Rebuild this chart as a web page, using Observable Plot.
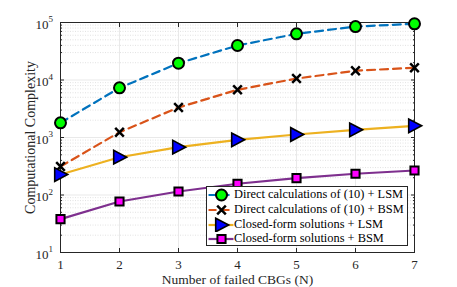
<!DOCTYPE html>
<html><head><meta charset="utf-8">
<script src="https://cdn.jsdelivr.net/npm/d3@7"></script>
<script src="https://cdn.jsdelivr.net/npm/@observablehq/plot@0.6"></script>
<style>
body{margin:0;background:#fff;}
#wrap{position:relative;width:457px;height:287px;font-family:"Liberation Serif","Times New Roman",serif;}
#legend{position:absolute;left:206px;top:186px;width:202px;height:60px;border:1px solid #262626;background:#fff;box-sizing:border-box;font-size:12.4px;color:#000;}
.row{position:absolute;left:0;height:15px;width:200px;white-space:nowrap;}
.row svg{position:absolute;left:1px;top:0;}
.row span{position:absolute;left:27px;top:0;line-height:15px;}
</style></head><body>
<div id="wrap"><div id="legend"></div></div>
<script>
const nFailed = [1, 2, 3, 4, 5, 6, 7];
const directLSM = [1800, 7300, 19600, 39800, 63500, 85000, 95000];
const directBSM = [313, 1236, 3325, 6760, 10600, 14500, 16300];
const closedLSM = [227, 454, 678, 912, 1128, 1360, 1597];
const closedBSM = [38, 77, 115, 157, 196, 234, 267];
const seriesNames = ["Direct calculations of (10) + LSM", "Direct calculations of (10) + BSM", "Closed-form solutions + LSM", "Closed-form solutions + BSM"];
const xLabel = "Number of failed CBGs (N)";
const yLabel = "Computational Complexity";
const lineColors = ["#0072BD", "#D95319", "#EDB120", "#7E2F8E"];
const fillColors = ["#00FF00", "#000000", "#0000FF", "#FF00FF"];
const yMajor = [10, 100, 1000, 10000, 100000];
const yMinor = [];
for (const d of [10, 100, 1000, 10000]) for (let k = 2; k <= 9; k++) yMinor.push(d * k);

const triRight = {draw(ctx, size){ const s = Math.sqrt(size) * 0.62; ctx.moveTo(s*1.05, 0); ctx.lineTo(-s*0.85, -s); ctx.lineTo(-s*0.85, s); ctx.closePath(); }};
const symbols = ["circle", "times", triRight, "square"];
const symR = [5.5, 4, 6.2, 4.6];
const symSW = [2, 2.5, 1.6, 2];
const allVals = [directLSM, directBSM, closedLSM, closedBSM];
const rows = [];
allVals.forEach((vals, i) => vals.forEach((v, j) => rows.push({x: nFailed[j], y: v, s: i})));
const noLabel = () => "";
const axisCol = "#262626";

const marks = [
  Plot.ruleY(yMinor, {stroke: "#d6d6d6", strokeDasharray: "1,1.5", strokeWidth: 0.7}),
  Plot.ruleY(yMajor, {stroke: "#e3e3e3", strokeWidth: 0.8}),
  Plot.ruleX(nFailed, {stroke: "#e3e3e3", strokeWidth: 0.8}),
  Plot.axisX({tickSize: -4, tickFormat: noLabel, label: null, ticks: nFailed, stroke: axisCol}),
  Plot.axisX({anchor: "top", tickSize: -4, tickFormat: noLabel, label: null, ticks: nFailed, stroke: axisCol}),
  Plot.axisY({tickSize: -4, tickFormat: noLabel, label: null, ticks: yMajor, stroke: axisCol}),
  Plot.axisY({anchor: "right", tickSize: -4, tickFormat: noLabel, label: null, ticks: yMajor, stroke: axisCol}),
  Plot.axisY({tickSize: -2, tickFormat: noLabel, label: null, ticks: yMinor, stroke: axisCol}),
  Plot.axisY({anchor: "right", tickSize: -2, tickFormat: noLabel, label: null, ticks: yMinor, stroke: axisCol}),
  Plot.text(nFailed, {x: d => d, frameAnchor: "bottom", lineAnchor: "middle", text: d => String(d), dy: 12, fontSize: 13, fill: axisCol}),
  Plot.text(yMajor, {y: d => d, frameAnchor: "left", lineAnchor: "middle", text: () => "10", textAnchor: "end", dx: -12, dy: 2, fontSize: 13, fill: axisCol}),
  Plot.text(yMajor, {y: d => d, frameAnchor: "left", lineAnchor: "middle", text: d => String(Math.round(Math.log10(d))), textAnchor: "start", dx: -12, dy: -3, fontSize: 9, fill: axisCol}),
  Plot.text([xLabel], {frameAnchor: "bottom", lineAnchor: "middle", text: d => d, dy: 27, fontSize: 13.5, fill: axisCol}),
  Plot.text([yLabel], {frameAnchor: "left", textAnchor: "middle", lineAnchor: "middle", text: d => d, rotate: -90, dx: -30, fontSize: 14, fill: axisCol}),
  Plot.frame({stroke: axisCol, strokeWidth: 1})
];
allVals.forEach((vals, i) => {
  marks.push(Plot.line(rows.filter(r => r.s === i), {x: "x", y: "y", stroke: lineColors[i], strokeWidth: 2.2, strokeDasharray: i < 2 ? "8,5" : null}));
});
allVals.forEach((vals, i) => {
  const data = rows.filter(r => r.s === i);
  marks.push(Plot.dot(data, {x: "x", y: "y", symbol: symbols[i], r: symR[i], fill: i === 1 ? "none" : fillColors[i], stroke: "#000", strokeWidth: symSW[i]}));
});

const chart = Plot.plot({
  width: 457, height: 287,
  marginLeft: 60, marginRight: 43, marginTop: 22, marginBottom: 35,
  style: {fontFamily: '"Liberation Serif","Times New Roman",serif', fontSize: "13px", color: axisCol, background: "#fff"},
  x: {domain: [1, 7]},
  y: {type: "log", domain: [10, 100000]},
  marks
});
document.getElementById("wrap").prepend(chart);

// legend
const leg = document.getElementById("legend");
seriesNames.forEach((name, i) => {
  const row = document.createElement("div");
  row.className = "row";
  row.style.top = (0 + i * 14.8) + "px";
  const sv = Plot.plot({
    width: 26, height: 15, margin: 0,
    x: {domain: [0, 1], axis: null}, y: {domain: [0, 1], axis: null},
    marks: [
      Plot.ruleY([0.5], {x1: 0.02, x2: 0.98, stroke: lineColors[i], strokeWidth: 2.2, strokeDasharray: i < 2 ? "8,5" : null}),
      Plot.dot([0.5], {x: d => d, y: 0.5, symbol: symbols[i], r: symR[i], fill: i === 1 ? "none" : fillColors[i], stroke: "#000", strokeWidth: symSW[i]})
    ]
  });
  row.appendChild(sv);
  const t = document.createElement("span");
  t.textContent = name;
  row.appendChild(t);
  leg.appendChild(row);
});
</script></body></html>
